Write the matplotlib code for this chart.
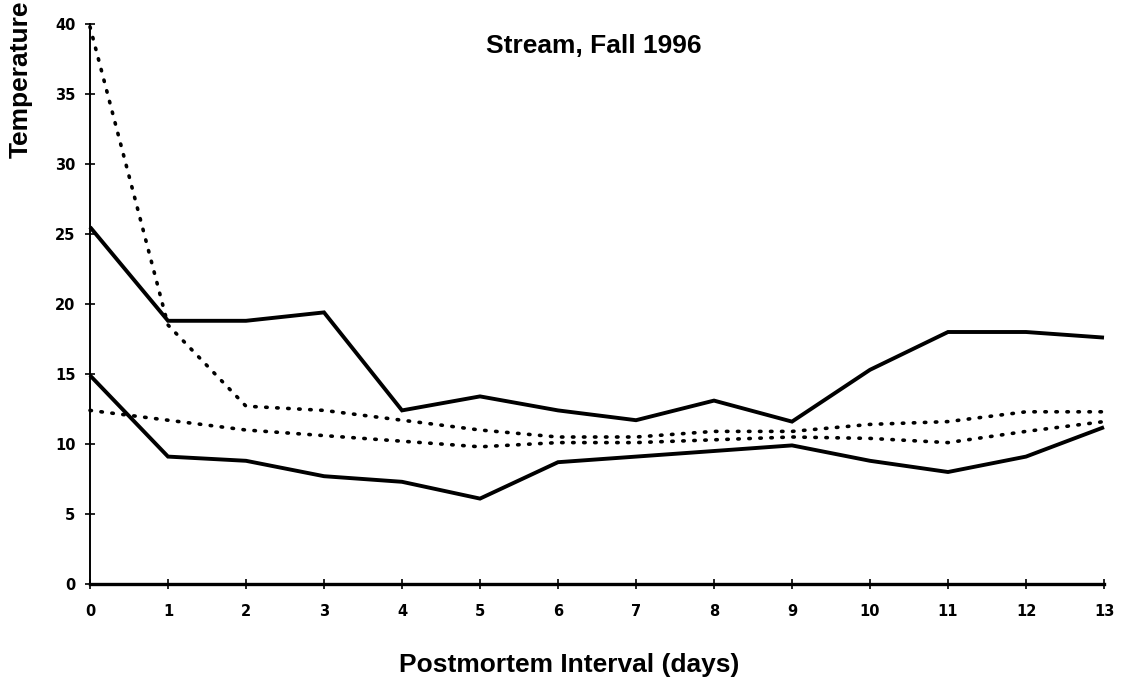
import matplotlib
matplotlib.use("Agg")
import matplotlib.pyplot as plt

# Daily stream temperatures over the postmortem interval
days = list(range(14))
max_temp = [25.5, 18.8, 18.8, 19.4, 12.4, 13.4, 12.4, 11.7, 13.1, 11.6, 15.3, 18.0, 18.0, 17.6]
min_temp = [14.9, 9.1, 8.8, 7.7, 7.3, 6.1, 8.7, 9.1, 9.5, 9.9, 8.8, 8.0, 9.1, 11.2]
body_max = [39.8, 18.5, 12.7, 12.4, 11.7, 11.0, 10.5, 10.5, 10.9, 10.9, 11.4, 11.6, 12.3, 12.3]
body_min = [12.4, 11.7, 11.0, 10.6, 10.2, 9.8, 10.1, 10.1, 10.3, 10.5, 10.4, 10.1, 10.9, 11.6]
y_ticks = [0, 5, 10, 15, 20, 25, 30, 35, 40]

plt.rcParams['font.family'] = ['Liberation Sans', 'DejaVu Sans']

W, H = 1123, 680
fig = plt.figure(figsize=(W / 100, H / 100), dpi=100)
ax = fig.add_axes([90 / W, 1 - 584 / H, (1104 - 90) / W, (584 - 24) / H])

solid = dict(color='black', lw=2.8, solid_joinstyle='miter', solid_capstyle='butt')
dotted = dict(color='black', lw=2.6, linestyle=(0, (0.4, 2.65)), dash_capstyle='round')

ax.plot(days, max_temp, **solid, clip_on=False)
ax.plot(days, min_temp, **solid, clip_on=False)
ax.plot(days, body_max, **dotted, clip_on=False)
ax.plot(days, body_min, **dotted, clip_on=False)

ax.set_xlim(0, 13)
ax.set_ylim(0, 40)
ax.set_xticks(days)
ax.set_yticks(y_ticks)

for s in ('top', 'right'):
    ax.spines[s].set_visible(False)
ax.spines['left'].set_linewidth(1.4)
ax.spines['bottom'].set_linewidth(2.4)

ax.tick_params(axis='both', direction='inout', length=7, width=1.2, colors='black')
ax.tick_params(axis='x', pad=11, labelsize=10.5)
ax.tick_params(axis='y', pad=7, labelsize=10.5)
for lab in ax.get_xticklabels() + ax.get_yticklabels():
    lab.set_fontweight('bold')
    lab.set_family('DejaVu Sans')

fig.text(594 / W, 1 - 46 / H, 'Stream, Fall 1996', ha='center', va='center',
         fontsize=19, fontweight='bold')
fig.text(569 / W, 1 - 665 / H, 'Postmortem Interval (days)', ha='center', va='center',
         fontsize=19, fontweight='bold')
fig.text(21 / W, 1 - 158 / H, 'Temperature', rotation=90, ha='center', va='bottom',
         fontsize=19, fontweight='bold')

fig.savefig('out.png', dpi=100, facecolor='white')
